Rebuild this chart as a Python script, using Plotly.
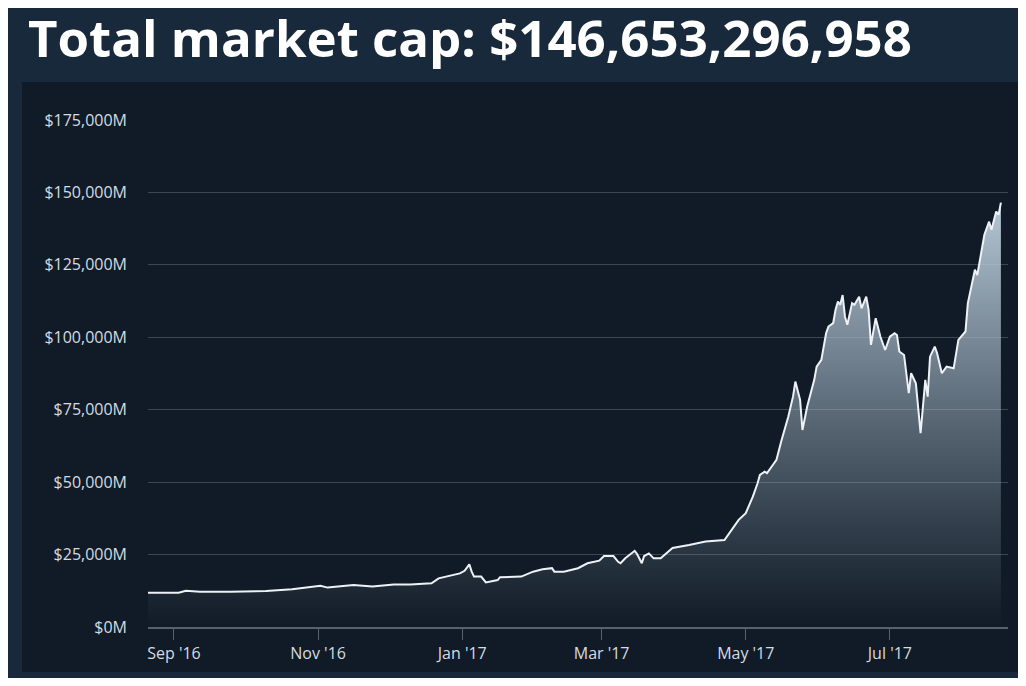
import plotly.graph_objects as go

# ---- data (total market cap, $ millions) ----
dates = [
    "2016-08-21", "2016-09-03", "2016-09-06", "2016-09-12", "2016-09-25", "2016-10-10",
    "2016-10-21", "2016-11-02", "2016-11-05", "2016-11-16", "2016-11-24", "2016-12-03",
    "2016-12-10", "2016-12-19", "2016-12-22", "2016-12-27", "2016-12-31", "2017-01-02",
    "2017-01-04", "2017-01-05", "2017-01-06", "2017-01-09", "2017-01-11", "2017-01-16",
    "2017-01-17", "2017-01-26", "2017-01-31", "2017-02-04", "2017-02-08", "2017-02-09",
    "2017-02-13", "2017-02-19", "2017-02-23", "2017-02-28", "2017-03-02", "2017-03-06",
    "2017-03-08", "2017-03-09", "2017-03-11", "2017-03-15", "2017-03-16", "2017-03-18",
    "2017-03-19", "2017-03-21", "2017-03-23", "2017-03-26", "2017-03-31", "2017-04-07",
    "2017-04-14", "2017-04-22", "2017-04-25", "2017-04-28", "2017-05-01", "2017-05-04",
    "2017-05-06", "2017-05-07", "2017-05-09", "2017-05-10", "2017-05-12", "2017-05-14",
    "2017-05-16", "2017-05-19", "2017-05-21", "2017-05-22", "2017-05-24", "2017-05-25",
    "2017-05-27", "2017-05-30", "2017-05-31", "2017-06-02", "2017-06-04", "2017-06-05",
    "2017-06-07", "2017-06-08", "2017-06-09", "2017-06-10", "2017-06-11", "2017-06-12",
    "2017-06-13", "2017-06-15", "2017-06-16", "2017-06-18", "2017-06-19", "2017-06-21",
    "2017-06-22", "2017-06-23", "2017-06-25", "2017-06-27", "2017-06-29", "2017-07-01",
    "2017-07-03", "2017-07-04", "2017-07-05", "2017-07-07", "2017-07-09", "2017-07-10",
    "2017-07-12", "2017-07-14", "2017-07-16", "2017-07-17", "2017-07-18", "2017-07-20",
    "2017-07-21", "2017-07-23", "2017-07-25", "2017-07-28", "2017-07-30", "2017-08-02",
    "2017-08-03", "2017-08-06", "2017-08-07", "2017-08-09", "2017-08-10", "2017-08-12",
    "2017-08-13", "2017-08-15", "2017-08-16", "2017-08-17",
]
market_cap = [
    11800, 11800, 12500, 12200, 12200, 12400,
    13000, 14200, 13600, 14500, 14000, 14700,
    14700, 15100, 16800, 17600, 18500, 19400,
    21600, 19100, 17400, 17400, 15400, 16200,
    17200, 17400, 19100, 19900, 20300, 19100,
    19100, 20300, 22000, 22900, 24500, 24500,
    22500, 22000, 23700, 26300, 25200, 22000,
    24500, 25400, 23700, 23700, 27300, 28300,
    29500, 30000, 33500, 37000, 39300, 45000,
    49600, 52500, 53600, 53100, 55400, 57700,
    64000, 72600, 79500, 84700, 78400, 68000,
    76100, 85300, 89900, 92200, 101400, 103700,
    104900, 109500, 112300, 111200, 114600, 107100,
    104300, 111800, 111200, 114000, 110000, 114000,
    109500, 97400, 106600, 100200, 95600, 100200,
    101400, 100800, 95100, 93900, 80700, 87600,
    84100, 66900, 85300, 79500, 93300, 96800,
    94500, 87600, 89900, 89300, 99100, 102000,
    111800, 123300, 121500, 131300, 135400, 139900,
    137100, 143400, 142300, 146500,
]
y_ticks = [0, 25000, 50000, 75000, 100000, 125000, 150000, 175000]
y_tick_text = ["$0M", "$25,000M", "$50,000M", "$75,000M", "$100,000M",
               "$125,000M", "$150,000M", "$175,000M"]
x_ticks = ["2016-09-01", "2016-11-01", "2017-01-01", "2017-03-01", "2017-05-01", "2017-07-01"]
x_tick_text = ["Sep '16", "Nov '16", "Jan '17", "Mar '17", "May '17", "Jul '17"]
title_text = "Total market cap: $146,653,296,958"

# figure is placed 8px in by the page margin
W, H = 1018, 670
L, R, T, B = 140, 1000, 112, 619  # plot area in figure pixels


def px(x):
    return (x - L) / (R - L)


def py(y):
    return (B - y) / (B - T)


fig = go.Figure()
fig.add_trace(go.Scatter(
    x=dates, y=market_cap, mode="lines",
    line=dict(color="#eef2f6", width=2),
    fill="tozeroy",
    fillgradient=dict(
        type="vertical",
        start=0, stop=150000,
        colorscale=[[0, "rgba(150,170,186,0.0)"], [1, "rgba(186,204,218,1)"]],
    ),
    hoverinfo="skip",
))

shapes = [
    dict(type="rect", xref="paper", yref="paper", layer="below",
         x0=px(14), x1=px(1012), y0=py(664), y1=py(74),
         fillcolor="#111b27", line=dict(width=0)),
]

fig.update_layout(
    width=W, height=H,
    margin=dict(l=L, r=W - R, t=T, b=H - B, pad=0),
    paper_bgcolor="#18293b",
    plot_bgcolor="rgba(0,0,0,0)",
    showlegend=False,
    shapes=shapes,
    font=dict(family="Open Sans", color="#d4dbe1", size=16),
    title=dict(
        text=title_text, xref="container", yref="container",
        x=20 / W, xanchor="left", y=1 - 31 / H, yanchor="middle",
        font=dict(family="Open Sans", size=51, color="#ffffff", weight="bold"),
    ),
    xaxis=dict(
        type="date",
        range=["2016-08-21", "2017-08-20"],
        tickvals=x_ticks, ticktext=x_tick_text,
        showgrid=False, zeroline=False,
        showline=True, linecolor="#56616c", linewidth=1.5,
        ticks="outside", ticklen=11, tickcolor="#56616c", tickwidth=1,
        tickfont=dict(size=16, color="#d4dbe1"),
    ),
    yaxis=dict(
        range=[0, 175000],
        tickvals=y_ticks, ticktext=y_tick_text,
        showgrid=True, gridcolor="#3b4753", gridwidth=1,
        zeroline=False, showline=False,
        ticks="", ticklabelstandoff=20,
        tickfont=dict(size=16, color="#d4dbe1"),
    ),
)

fig.write_html("out.html")
